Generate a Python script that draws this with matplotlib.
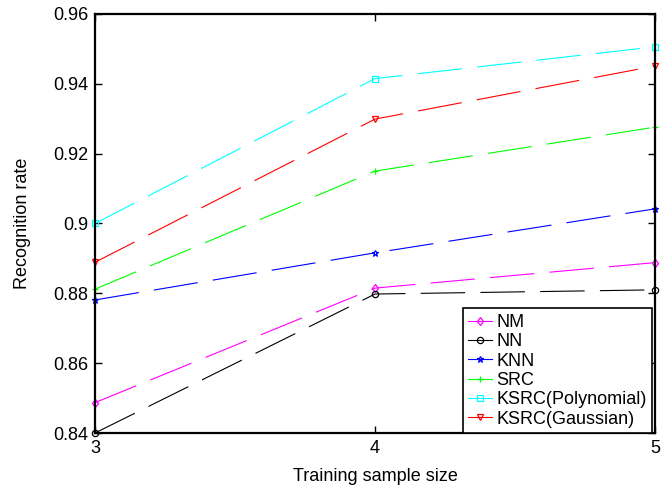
import matplotlib
matplotlib.use("Agg")
import matplotlib.pyplot as plt

plt.rcParams['font.family'] = ['Liberation Sans', 'DejaVu Sans']
plt.rcParams['lines.scale_dashes'] = False

x = [3, 4, 5]
series_names = ["NM", "NN", "KNN", "SRC", "KSRC(Polynomial)", "KSRC(Gaussian)"]
nm = [0.8487, 0.8815, 0.8888]
nn = [0.8400, 0.8798, 0.8810]
knn = [0.8781, 0.8916, 0.9042]
src = [0.8812, 0.9150, 0.9276]
ksrc_poly = [0.9000, 0.9415, 0.9506]
ksrc_gauss = [0.8889, 0.9299, 0.9451]
values = [nm, nn, knn, src, ksrc_poly, ksrc_gauss]
colors = ["#ff00ff", "#000000", "#0000ff", "#00ff00", "#00ffff", "#ff0000"]
markers = ["d", "o", "*", "+", "s", "v"]
yticks = [0.84, 0.86, 0.88, 0.9, 0.92, 0.94, 0.96]
ytick_labels = ["0.84", "0.86", "0.88", "0.9", "0.92", "0.94", "0.96"]

fig = plt.figure(figsize=(6.65, 4.88), dpi=100)
ax = fig.add_axes([95/665, 1-433/488, 560/665, 419/488])

for vals, name, c, m in zip(values, series_names, colors, markers):
    ax.plot(x, vals, color=c, marker=m, markersize=4.5, markerfacecolor='none',
            markeredgecolor=c, markeredgewidth=0.9, linewidth=0.8,
            dashes=(32, 11), label=name, clip_on=False)

ax.set_xlim(3, 5)
ax.set_ylim(0.84, 0.96)
ax.set_xticks(x)
ax.set_xticklabels([str(v) for v in x])
ax.set_yticks(yticks)
ax.set_yticklabels(ytick_labels)
ax.tick_params(direction='in', length=5, width=1, labelsize=13, top=True, right=True, pad=5)
for s in ax.spines.values():
    s.set_linewidth(1.6)
ax.set_xlabel("Training sample size", fontsize=13, labelpad=8)
ax.set_ylabel("Recognition rate", fontsize=13, labelpad=16)

leg = ax.legend(loc='lower right', bbox_to_anchor=((652-95)/560, 0.0),
                fontsize=13, handlelength=1.3, handletextpad=0.25,
                labelspacing=0.13, borderpad=0.3, borderaxespad=0.0, fancybox=False,
                framealpha=1, edgecolor='black')
leg.get_frame().set_linewidth(1.2)
for h in leg.get_lines():
    h.set_linestyle('-')

fig.savefig("out.png", dpi=100)
